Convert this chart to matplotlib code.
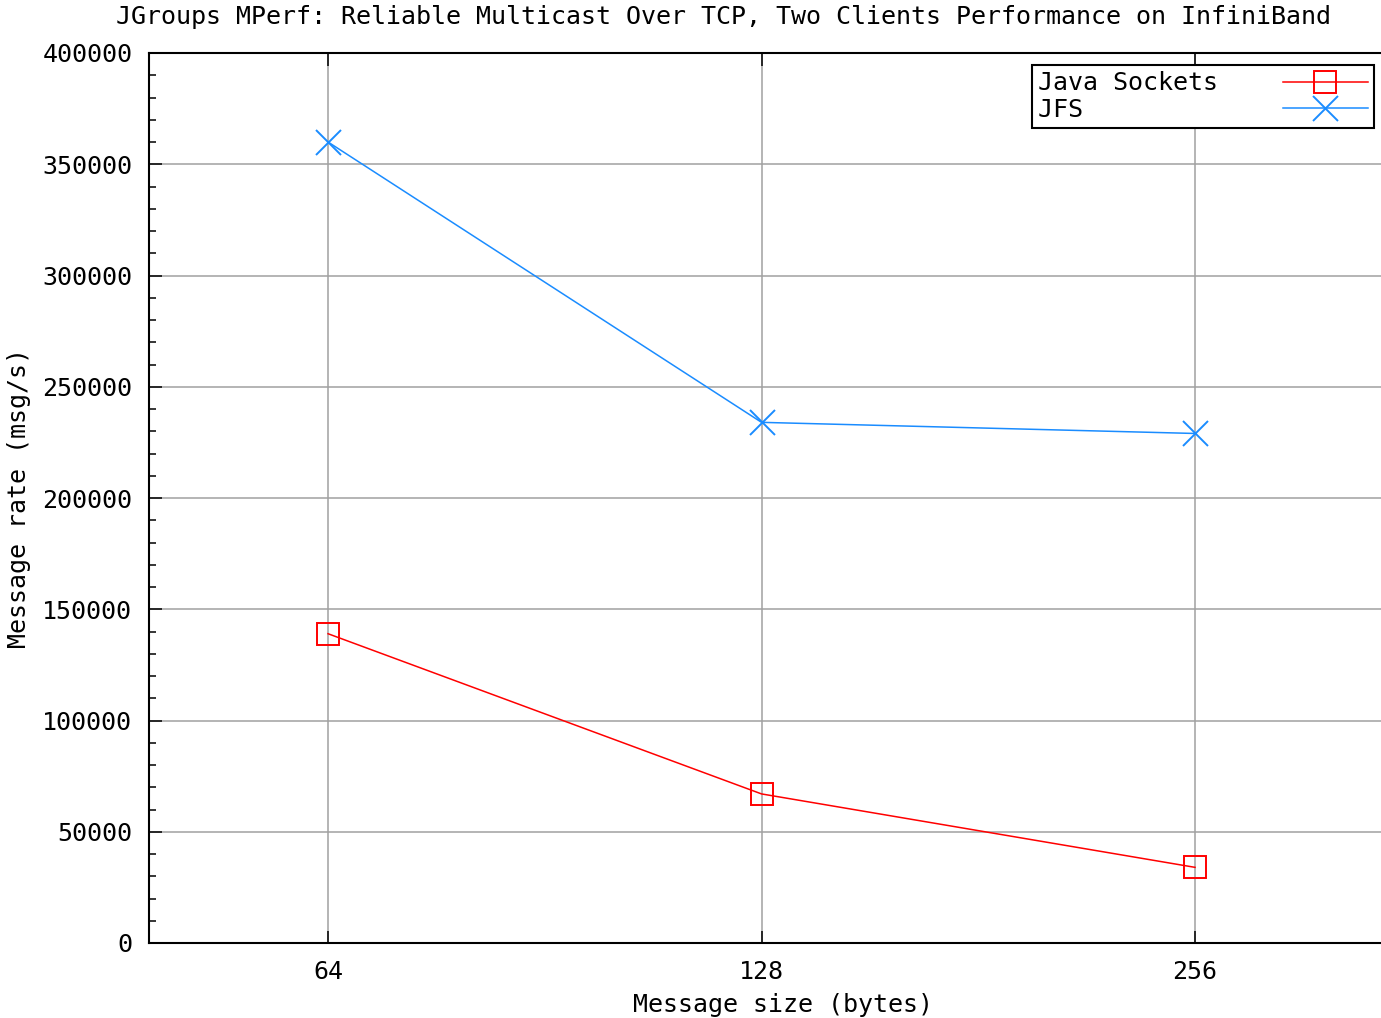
import matplotlib
matplotlib.use('Agg')
import matplotlib.pyplot as plt
from matplotlib.ticker import MultipleLocator

sizes = ['64', '128', '256']
java_sockets = [139000, 67000, 34000]
jfs = [360000, 234000, 229000]
labels = ['Java Sockets', 'JFS']

plt.rcParams['font.family'] = 'DejaVu Sans Mono'
fs = 18

fig = plt.figure(figsize=(13.81, 10.18), dpi=100)
ax = fig.add_axes([149/1381, 75/1018, 1268/1381, 890/1018])

# pad labels to same width so they look left-aligned in the legend
w = max(len(l) for l in labels)
xs = range(len(sizes))
ax.plot(xs, java_sockets, color='#ff0000', lw=1.1, marker='s', ms=16,
        mfc='none', mec='#ff0000', mew=1.4, label=labels[0].ljust(w))
ax.plot(xs, jfs, color='#1a8cff', lw=1.1, marker='x', ms=18,
        mew=1.4, label=labels[1].ljust(w))

ax.set_xlim(-0.413, 2.512)
ax.set_ylim(0, 400000)
ax.set_xticks(list(xs))
ax.set_xticklabels(sizes)
ax.yaxis.set_major_locator(MultipleLocator(50000))
ax.yaxis.set_minor_locator(MultipleLocator(10000))

ax.grid(True, which='major', color='#a0a0a0', lw=1.1)
ax.set_axisbelow(True)
ax.tick_params(which='major', direction='in', length=9, width=1.1,
               top=True, right=True, labelsize=fs, pad=12)
ax.tick_params(which='minor', direction='in', length=5, width=1.1,
               right=True)
ax.tick_params(axis='x', pad=12)
for s in ax.spines.values():
    s.set_linewidth(1.5)

ax.set_xlabel('Message size (bytes)', fontsize=fs, labelpad=7)
ax.set_ylabel('Message rate (msg/s)', fontsize=fs, labelpad=8)
fig.text(723.5/1381, 1 - 17/1018, 'JGroups MPerf: Reliable Multicast Over TCP, Two Clients Performance on InfiniBand',
         ha='center', va='center', fontsize=fs)

leg = ax.legend(loc='upper right', bbox_to_anchor=(1374/1381, 1 - 65/1018),
                bbox_transform=fig.transFigure, markerfirst=False,
                fancybox=False, framealpha=1, edgecolor='black',
                fontsize=fs, handlelength=3.4, borderaxespad=0,
                labelspacing=0.1, borderpad=0.25, handletextpad=2.6)
leg.get_frame().set_linewidth(1.5)

fig.savefig('out.png', dpi=100)
